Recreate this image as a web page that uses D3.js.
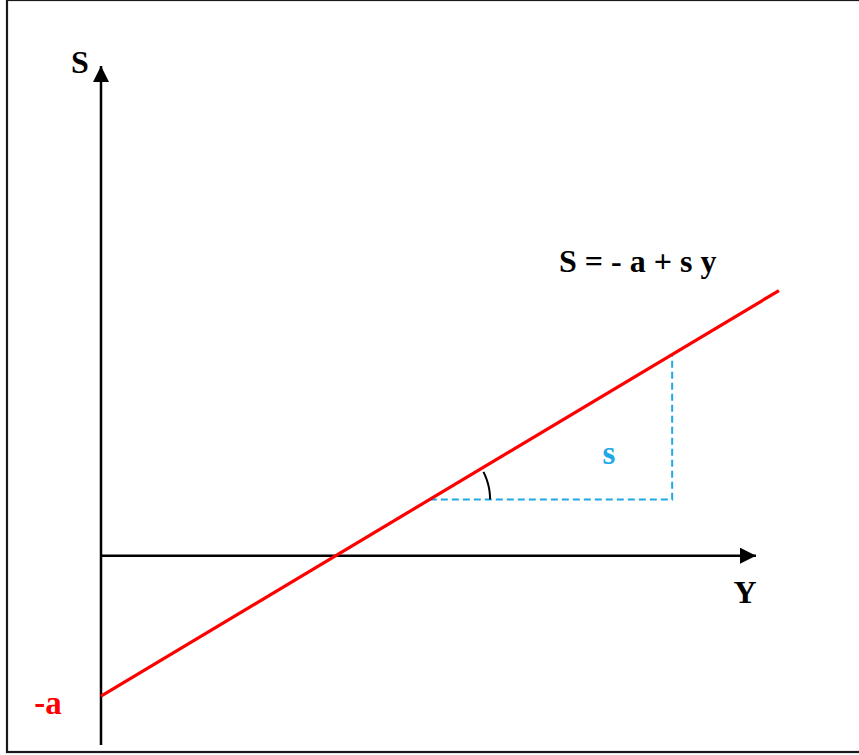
<!DOCTYPE html>
<html>
<head>
<meta charset="utf-8">
<script src="https://cdn.jsdelivr.net/npm/d3@7"></script>
<style>
  html, body { margin: 0; padding: 0; background: #fff; }
  svg { display: block; }
  text { font-family: "Liberation Serif", "Times New Roman", serif; font-weight: bold; }
</style>
</head>
<body>
<script>
// ---- data ----
const yAxisDomain = [0, 10];          // Y (horizontal axis) extent, arrow tip at 10
const sAxisDomain = [-2.9, 7.5];      // S (vertical axis) extent, arrow tip at 7.5
const interceptA = [2.15];            // S = -a at Y = 0
const slopeS = [0.6];                 // slope s
const lineY = [0, 10.35];             // Y range of the red line
const triangleY = [5.02, 8.72];       // Y range of slope triangle
const angleRadius = [0.92];           // arc radius in Y units
const labels = ["S", "Y", "-a", "s", "S = - a + s y"];

const W = 859, H = 755;
const svg = d3.select("body").append("svg").attr("width", W).attr("height", H);

// frame
svg.append("rect").attr("x", 7).attr("y", 0).attr("width", 870).attr("height", 752)
  .attr("fill", "none").attr("stroke", "#1a1a1a").attr("stroke-width", 2.2);

const x = d3.scaleLinear().domain(yAxisDomain).range([101, 756]);
const y = d3.scaleLinear().domain(sAxisDomain).range([745, 66]);

const a = interceptA[0], s = slopeS[0];
const f = v => -a + s * v;

// arrow markers
const defs = svg.append("defs");
defs.append("marker").attr("id", "arr").attr("viewBox", "0 0 16 16")
  .attr("refX", 16).attr("refY", 8).attr("markerWidth", 16).attr("markerHeight", 16)
  .attr("markerUnits", "userSpaceOnUse").attr("orient", "auto")
  .append("path").attr("d", "M0,0 L16,8 L0,16 Z").attr("fill", "#000");

// axes
svg.append("line")
  .attr("x1", x(0)).attr("y1", y(sAxisDomain[0]))
  .attr("x2", x(0)).attr("y2", y(sAxisDomain[1]))
  .attr("stroke", "#000").attr("stroke-width", 2.5).attr("marker-end", "url(#arr)");
svg.append("line")
  .attr("x1", x(0)).attr("y1", y(0))
  .attr("x2", x(yAxisDomain[1])).attr("y2", y(0))
  .attr("stroke", "#000").attr("stroke-width", 2.5).attr("marker-end", "url(#arr)");

// slope triangle (dashed)
const blue = "#1fa9e6";
svg.append("path")
  .attr("d", d3.line()([
    [x(triangleY[0]), y(f(triangleY[0]))],
    [x(triangleY[1]), y(f(triangleY[0]))],
    [x(triangleY[1]), y(f(triangleY[1]))]
  ]))
  .attr("fill", "none").attr("stroke", blue).attr("stroke-width", 2)
  .attr("stroke-dasharray", "7,4");

// red line
svg.append("path")
  .attr("d", d3.line()(lineY.map(v => [x(v), y(f(v))])))
  .attr("fill", "none").attr("stroke", "#ff0000").attr("stroke-width", 3.2);

// angle arc
const cx = x(triangleY[0]), cy = y(f(triangleY[0]));
const r = x(angleRadius[0]) - x(0);
const ang = Math.atan2(y(f(triangleY[0])) - y(f(triangleY[1])), x(triangleY[1]) - x(triangleY[0]));
const arcPts = d3.range(0, 1.0001, 0.05).map(t => {
  const th = t * ang * 0.88;
  return [cx + r * Math.cos(th), cy - r * Math.sin(th)];
});
svg.append("path").attr("d", d3.line().curve(d3.curveBasis)(arcPts))
  .attr("fill", "none").attr("stroke", "#000").attr("stroke-width", 2);

// labels
svg.append("text").attr("x", 80).attr("y", 73).attr("text-anchor", "middle")
  .attr("font-size", 32).attr("fill", "#000").text(labels[0]);
svg.append("text").attr("x", 745).attr("y", 603).attr("text-anchor", "middle")
  .attr("font-size", 32).attr("fill", "#000").text(labels[1]);
svg.append("text").attr("x", 48).attr("y", 714).attr("text-anchor", "middle")
  .attr("font-size", 33).attr("fill", "#ff0000").text(labels[2]);
svg.append("text").attr("x", 609).attr("y", 464).attr("text-anchor", "middle")
  .attr("font-size", 33).attr("fill", blue).text(labels[3]);
svg.append("text").attr("x", 559).attr("y", 272).attr("text-anchor", "start")
  .attr("font-size", 32).attr("fill", "#000").text(labels[4]);
</script>
</body>
</html>
